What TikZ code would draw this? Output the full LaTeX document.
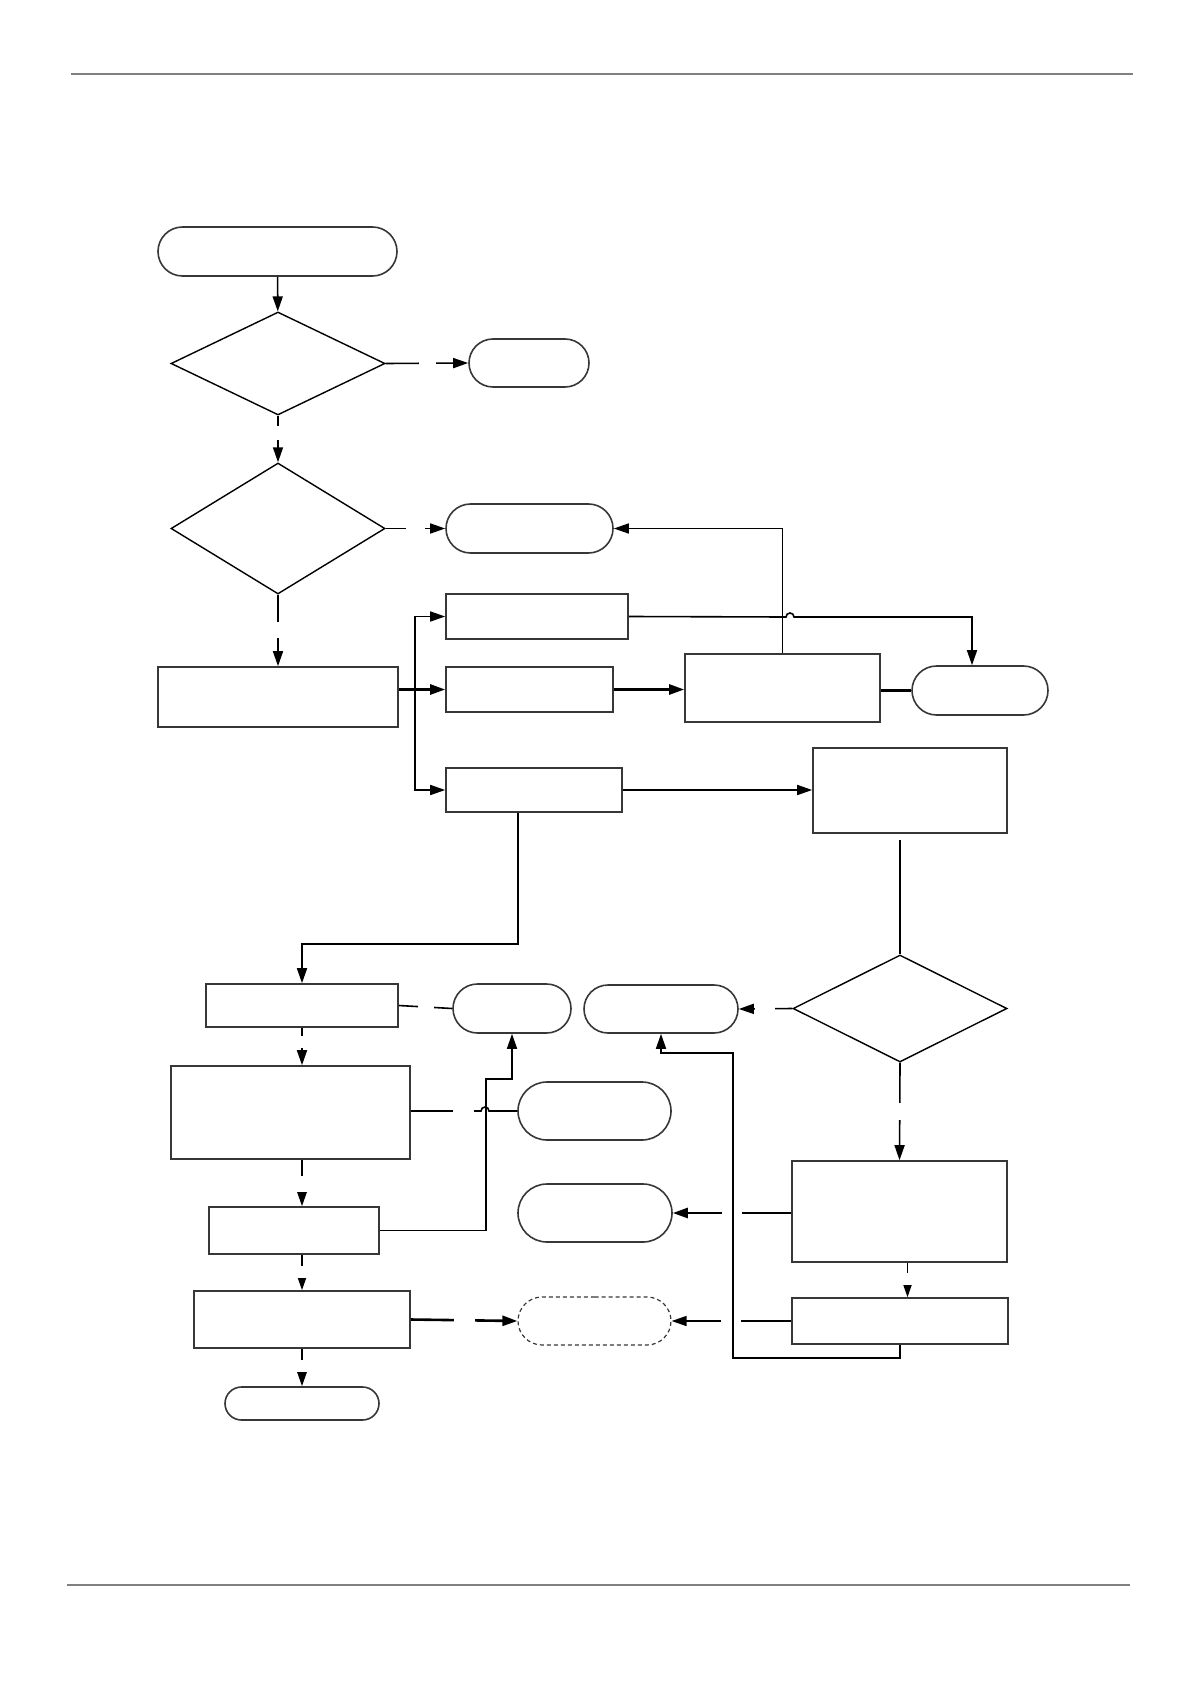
\documentclass[tikz,border=0pt]{standalone}
\usepackage{tikz}
\usetikzlibrary{positioning, shapes.geometric, shapes.misc, arrows.meta}
\definecolor{RuleGray}{RGB}{128, 128, 128}
\definecolor{EdgeGray}{RGB}{55, 55, 55}

\tikzset{
  base/.style={draw=EdgeGray, line width=0.8pt, inner sep=0pt},
  proc/.style={base, rectangle},
  term/.style={base, rounded rectangle},
  dec/.style={base, draw=black, diamond, line width=0.7pt},
  sz/.style 2 args={minimum width=#1*0.5pt, minimum height=#2*0.5pt},
  arr/.style={-{Triangle[length=7.5pt, width=5pt]}, line width=0.8pt},
  heavy/.style={line width=1.3pt},
  hgap/.style={fill=white, inner sep=0pt, minimum width=#1*0.5pt, minimum height=6pt},
  vgap/.style={fill=white, inner sep=0pt, minimum height=#1*0.5pt, minimum width=6pt},
}

\begin{document}
\begin{tikzpicture}[x=0.5pt, y=-0.5pt, line width=0.8pt]
    \useasboundingbox (0,0) rectangle (1190,1684);

    % Page rules
    \draw[RuleGray, line width=1pt] (71,74) -- (1133,74);
    \draw[RuleGray, line width=1pt] (67,1585) -- (1130,1585);

    % Left column
    \node[term, sz={239}{49}] (start) at (277.5,251.5) {};
    \node[dec, sz={214}{103}] (D1) at (278,363.5) {};
    \node[term, sz={120}{48}] (T1) at (529,363) {};
    \node[dec, sz={214}{131}] (D2) at (278,528.5) {};
    \node[term, sz={167}{49}] (T2) at (529.5,528.5) {};
    \node[proc, sz={240}{60}] (P1) at (278,697) {};

    % Branches
    \node[proc, sz={182}{45}] (P2) at (537,616.5) {};
    \node[proc, sz={167}{45}] (P3) at (529.5,689.5) {};
    \node[proc, sz={176}{44}] (P4) at (534,790) {};
    \node[proc, sz={195}{68}] (P5) at (782.5,688) {};
    \node[term, sz={136}{49}] (T4) at (980,690.5) {};
    \node[proc, sz={194}{85}] (P6) at (910,790.5) {};
    \node[dec, sz={214}{107}] (D3) at (900,1008.5) {};

    % Lower part
    \node[proc, sz={192}{43}] (P7) at (302,1005.5) {};
    \node[term, sz={118}{49}] (T5) at (512,1008.5) {};
    \node[term, sz={154}{48}] (T6) at (661,1009) {};
    \node[proc, sz={239}{93}] (P8) at (290.5,1112.5) {};
    \node[term, sz={153}{58}] (T7) at (594.5,1111) {};
    \node[term, sz={154}{58}] (T8) at (595,1213) {};
    \node[proc, sz={215}{101}] (P9) at (899.5,1211.5) {};
    \node[proc, sz={170}{47}] (P10) at (294,1230.5) {};
    \node[proc, sz={216}{57}] (P11) at (302,1319.5) {};
    \node[term, dash pattern=on 2pt off 1.5pt, line width=0.6pt, sz={153}{48}] (T9) at (594.5,1321) {};
    \node[proc, sz={216}{46}] (P12) at (900,1321) {};
    \node[term, sz={154}{33}] (T10) at (302,1403.5) {};

    % Top connectors
    \draw[arr] (start) -- (D1);
    \draw[arr] (D1.east) -- node[hgap=17, pos=.51] {} (T1.west);
    \draw[arr] (D1.south) -- node[vgap=14, pos=.375] {} (D2.north);
    \draw[arr] (D2.east) -- node[hgap=19, pos=.5] {} (T2.west);
    \draw[arr] (D2.south) -- node[vgap=16, pos=.5] {} (P1.north);

    % Fan out from P1
    \coordinate (bus) at (415,689.5);
    \draw[arr, heavy] (P1.east |- P3.west) -- (P3.west);
    \draw[arr] (bus) |- (P2.west);
    \draw[arr] (bus) |- (P4.west);
    \draw[arr, heavy] (P3.east) -- (P5.west |- P3.east);
    \draw[heavy] (P5.east |- T4.west) -- (T4.west);
    \draw[arr] (P5.north) |- (T2.east);
    \draw[arr] (P2.east) -- (786,617) arc[start angle=180, end angle=0, radius=2pt]
        -| ([xshift=-4pt]T4.north);
    \draw[arr] (P4.east) -- (P6.west |- P4.east);
    \draw (D3.north) -- ([yshift=-3pt]D3.north |- P6.south);
    \draw[arr] ([xshift=-8pt]P4.south) -- ++(0,131) -| (P7.north);

    % Right column
    \draw[arr] (D3.west) -- node[hgap=20, pos=.51] {} (T6.east);
    \draw[arr] (D3.south) -- node[vgap=17, pos=.5] {} (P9.north);
    \draw[arr, heavy] (P9.west |- T8.east) -- node[hgap=20, pos=.5] {} (T8.east);
    \draw[arr] ([xshift=4pt]P9.south) -- node[vgap=12, pos=.47] {} ([xshift=4pt]P9.south |- P12.north);
    \draw[arr] (P12.west) -- node[hgap=20, pos=.5] {} (T9.east);
    \draw[arr] (P12.south) -- ++(0,13) -| ++(-167,-305) -| (T6.south);

    % Left column, lower
    \draw (P7.east) -- node[hgap=16, pos=.51] {} (T5.west);
    \draw[arr] (P7.south) -- node[vgap=12, pos=.39] {} (P7.south |- P8.north);
    \draw[arr] (P10.east) -| ++(106,-151.5) -| (T5.south);
    \draw (P8.east |- T7.west) -- node[hgap=21, pos=.754] {} (481,1111)
        arc[start angle=180, end angle=0, radius=2pt] -- (T7.west);
    \draw[arr] (P7.south |- P8.south) -- node[vgap=16, pos=.52] {} (P7.south |- P10.north);
    \draw[arr] (P7.south |- P10.south) -- node[vgap=12, pos=.49] {} (P11.north);
    \draw[arr, heavy] (P11.east) -- node[hgap=21, pos=.5] {} (T9.west);
    \draw[arr] (P11.south) -- node[vgap=12, pos=.46] {} (T10.north);
\end{tikzpicture}
\end{document}
